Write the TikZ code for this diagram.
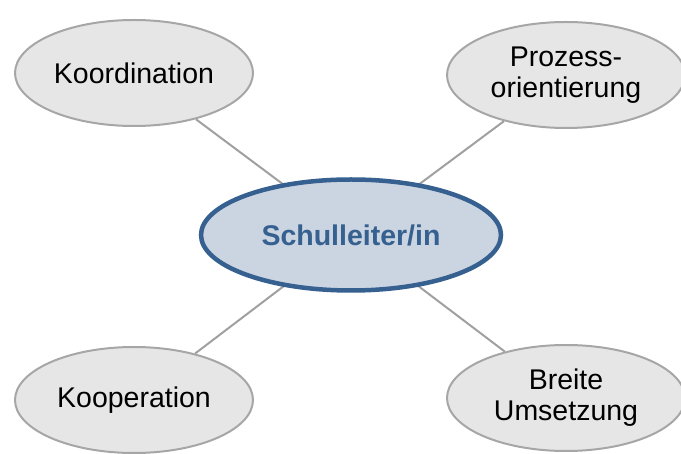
\documentclass[tikz,border=0pt]{standalone}
\usepackage{fontspec}
\setmainfont{Liberation Sans}
\usetikzlibrary{shapes.geometric}
\definecolor{outergray}{HTML}{A6A6A6}
\definecolor{outerfill}{HTML}{E6E6E6}
\definecolor{centerblue}{HTML}{35608F}
\definecolor{centerfill}{HTML}{CBD5E1}
\definecolor{linkgray}{HTML}{A0A0A0}
\tikzset{
  outerbox/.style={ellipse, draw=outergray, fill=outerfill, line width=2pt,
    minimum width=238pt, minimum height=106pt, inner sep=0pt, align=center,
    font=\fontsize{28.5}{31}\selectfont, text=black},
  centerbox/.style={ellipse, draw=centerblue, fill=centerfill, line width=4.5pt,
    minimum width=300pt, minimum height=111pt, inner sep=0pt,
    font=\fontsize{28.5}{31}\selectfont\bfseries, text=centerblue},
  link/.style={draw=linkgray, line width=2pt}
}
\begin{document}
\begin{tikzpicture}[x=1pt,y=-1pt]
\useasboundingbox (0,0) rectangle (681,454);
\coordinate (cc) at (351,235);
\node[outerbox] (koord) at (134,73) {Koordination};
\node[outerbox] (proz) at (566,75) {Prozess-\\orientierung};
\node[outerbox] (koop) at (134,400) {Kooperation};
\node[outerbox] (breit) at (566,398) {Breite\\Umsetzung};
\draw[link] (koord) -- (cc);
\draw[link] (proz) -- (cc);
\draw[link] (koop) -- (cc);
\draw[link] (breit) -- (cc);
\node[centerbox] (center) at (cc) {Schulleiter/in};
\end{tikzpicture}
\end{document}
